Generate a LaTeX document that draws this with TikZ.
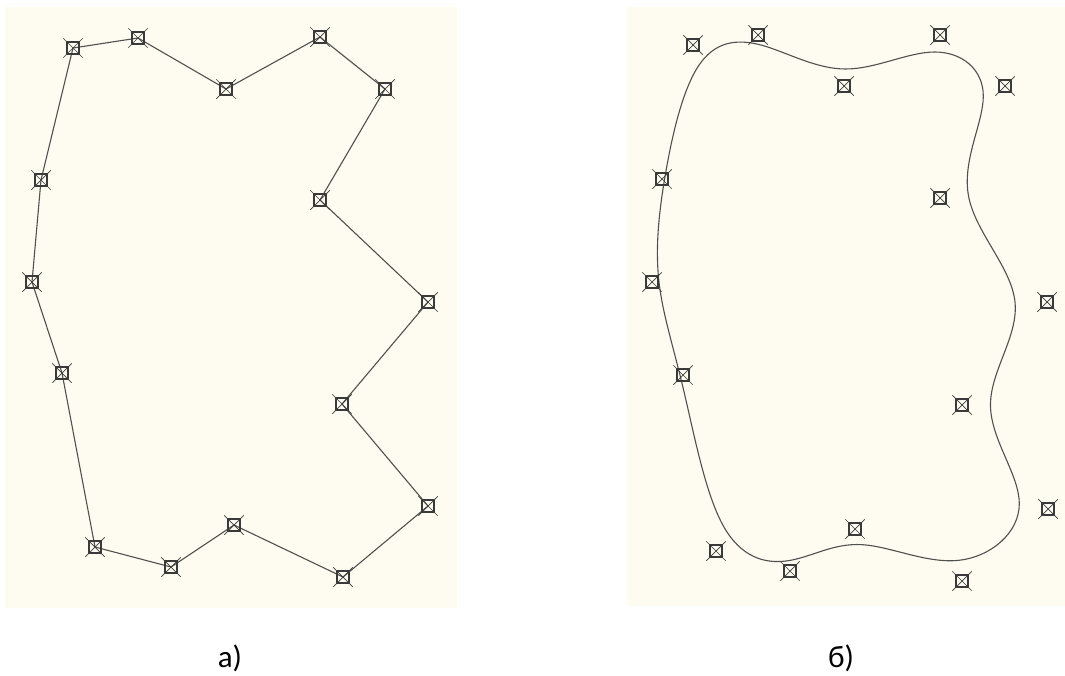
\documentclass[tikz,border=0pt]{standalone}
\usepackage{fontspec}
\setmainfont{Carlito}
\usetikzlibrary{calc}
\definecolor{paper}{HTML}{FEFCF0}
\definecolor{ink}{HTML}{505050}
\definecolor{mkink}{HTML}{3A3A3A}
\tikzset{
  mk/.style={draw=mkink, line width=1.4pt, rectangle, inner sep=0pt, minimum size=12pt},
  edge/.style={draw=ink, line width=1.1pt, line cap=round, line join=round},
  lbl/.style={font=\fontsize{31}{36}\selectfont, text=black, anchor=base}
}
\begin{document}
\begin{tikzpicture}[x=1pt,y=-1pt]
\useasboundingbox (0,0) rectangle (1065,675);
\fill[paper] (5,7) rectangle (457,608);
\fill[paper] (627,7) rectangle (1065,606);
% panel a
\foreach \n/\x/\y in {0/73/48,1/138/38,2/226/89,3/320/37,4/385/89,5/320/200,6/428/302,7/342/404,8/428/506,9/343/577,10/234/525,11/171/567,12/95/547,13/62/373,14/32/282,15/41/180}
  \coordinate (p\n) at (\x,\y);
\draw[edge] (p0) -- (p1) -- (p2) -- (p3) -- (p4) -- (p5) -- (p6) -- (p7) -- (p8) -- (p9) -- (p10) -- (p11) -- (p12) -- (p13) -- (p14) -- (p15) -- cycle;
% panel b control points
\foreach \n/\x/\y in {0/693/45,1/758/35,2/844/86,3/940/35,4/1005/86,5/940/198,6/1047/302,7/962/405,8/1048/509,9/962/581,10/855/529,11/790/571,12/716/551,13/683/375,14/652/282,15/662/179}
  \coordinate (q\n) at (\x,\y);
\draw[edge] ($1/6*(q15)+2/3*(q0)+1/6*(q1)$)
  \foreach \i [evaluate=\i as \j using {int(mod(\i+1,16))}, evaluate=\i as \k using {int(mod(\i+2,16))}] in {0,...,15} {
    .. controls ($2/3*(q\i)+1/3*(q\j)$) and ($1/3*(q\i)+2/3*(q\j)$) .. ($1/6*(q\i)+2/3*(q\j)+1/6*(q\k)$)
  } -- cycle;
% markers
\foreach \p in {p,q} {
  \foreach \n in {0,...,15} {
    \node[mk] (m\p\n) at (\p\n) {};
    \draw[mkink, line width=0.7pt] ([shift={(-3,-3)}]m\p\n.north west) -- ([shift={(3,3)}]m\p\n.south east);
    \draw[mkink, line width=0.7pt] ([shift={(3,-3)}]m\p\n.north east) -- ([shift={(-3,3)}]m\p\n.south west);
  }
}
\node[lbl] (la) at (230,667) {а)};
\node[lbl] (lb) at (841,667) {б)};
\end{tikzpicture}
\end{document}
